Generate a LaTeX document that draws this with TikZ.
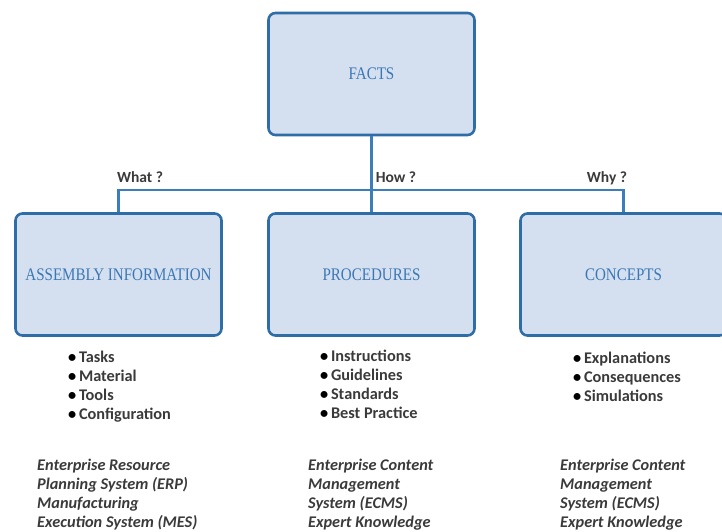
\documentclass[tikz,border=0pt]{standalone}
\usepackage{fontspec}
\setmainfont{Carlito}
\newfontfamily\boxfont[FakeStretch=0.85]{Liberation Serif}
\definecolor{boxfill}{HTML}{D4E0F0}
\definecolor{boxline}{HTML}{2F6DA6}
\definecolor{boxtext}{HTML}{3B77B5}
\definecolor{linkblue}{HTML}{3C7DBD}
\definecolor{listgray}{HTML}{3A3A3A}
\begin{document}
\begin{tikzpicture}[x=1pt,y=1pt,
  block/.style={draw=boxline,line width=2.6pt,fill=boxfill,rounded corners=7pt,
    minimum width=206pt,minimum height=122pt,text=boxtext,
    font=\boxfont\fontsize{17.7}{20}\selectfont},
  link/.style={draw=linkblue,line width=2.6pt},
  ask/.style={font=\bfseries\fontsize{15.5}{18}\selectfont,text=listgray,anchor=base,inner sep=0pt},
  items/.style={font=\bfseries\fontsize{16.3}{19}\selectfont,text=listgray,align=left,anchor=base west,inner sep=0pt},
  systems/.style={font=\bfseries\itshape\fontsize{16.3}{19}\selectfont,text=listgray,align=left,anchor=base west,inner sep=0pt}]
  \path[use as bounding box,clip] (0,0) rectangle (722,532);
  % boxes
  \node[block] (facts) at (371.5,458) {FACTS};
  \node[block] (assembly) at (118.5,257.5) {ASSEMBLY INFORMATION};
  \node[block] (procedures) at (371.5,257.5) {PROCEDURES};
  \node[block] (concepts) at (623.5,257.5) {CONCEPTS};
  % connectors
  \coordinate (bar) at (371.5,342);
  \draw[link] (facts.south) -- (procedures.north);
  \draw[link] (assembly.north) |- (bar) -| (concepts.north);
  \node[ask] (what) at (140,349) {What ?};
  \node[ask] (how) at (396,349) {How ?};
  \node[ask] (why) at (607,349) {Why ?};
  % lists (anchored at the last line)
  \node[items] (assemblyItems) at (68,112) {{\color{black}•}\,Tasks\\{\color{black}•}\,Material\\{\color{black}•}\,Tools\\{\color{black}•}\,Configuration};
  \node[items] (procedureItems) at (320,113.5) {{\color{black}•}\,Instructions\\{\color{black}•}\,Guidelines\\{\color{black}•}\,Standards\\{\color{black}•}\,Best Practice};
  \node[items] (conceptItems) at (573,130) {{\color{black}•}\,Explanations\\{\color{black}•}\,Consequences\\{\color{black}•}\,Simulations};
  % systems
  \node[systems] (assemblySystems) at (37,4) {Enterprise Resource\\Planning System (ERP)\\Manufacturing\\Execution System (MES)};
  \node[systems] (procedureSystems) at (308,4) {Enterprise Content\\Management\\System (ECMS)\\Expert Knowledge};
  \node[systems] (conceptSystems) at (560,4) {Enterprise Content\\Management\\System (ECMS)\\Expert Knowledge};
\end{tikzpicture}
\end{document}
